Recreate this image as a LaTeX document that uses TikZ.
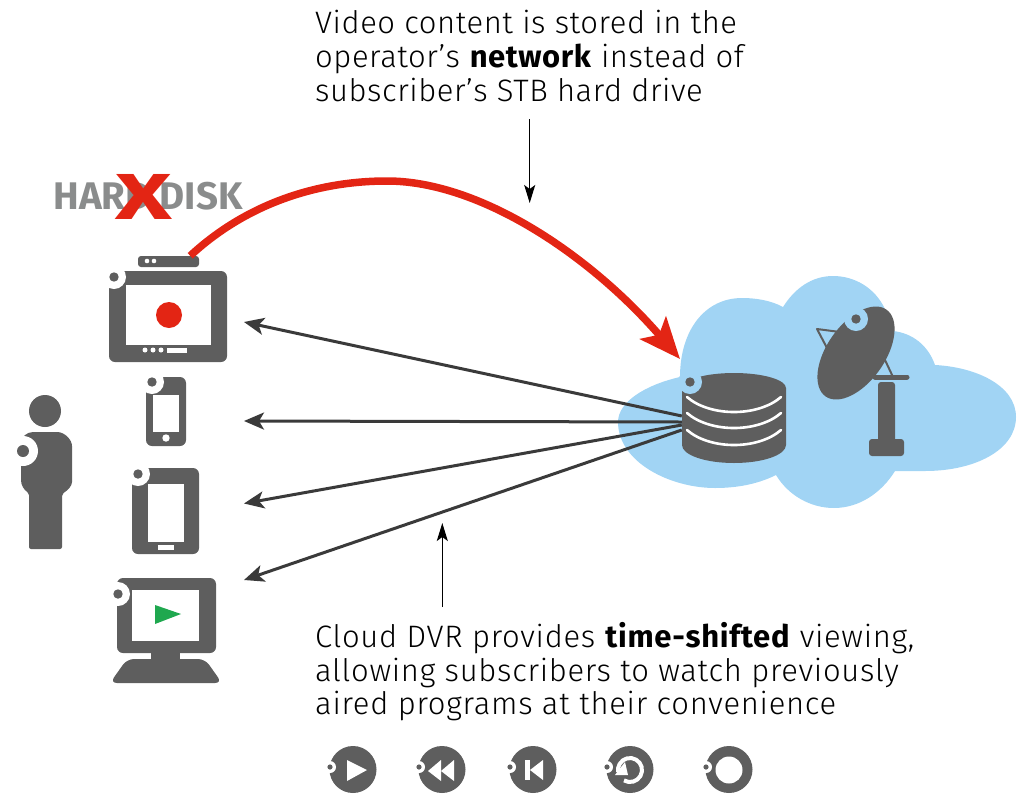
\documentclass[tikz,border=0pt]{standalone}
\usepackage{fontspec}
\setmainfont{Fira Sans}
\newfontfamily\capfont[LetterSpace=1.8,BoldFont={Fira Sans Bold}]{Fira Sans Light}
\newfontfamily\lowcapfont[LetterSpace=2.3,BoldFont={Fira Sans Bold}]{Fira Sans Light}
\usetikzlibrary{arrows.meta}
\definecolor{icongray}{HTML}{5E5E5E}
\definecolor{linegray}{HTML}{3A3A3A}
\definecolor{cloudblue}{HTML}{A1D4F4}
\definecolor{recred}{HTML}{E32514}
\definecolor{playgreen}{HTML}{1FA84F}
\definecolor{labelgray}{HTML}{8A8C8C}
\tikzset{
	device/.style={fill=icongray, rounded corners=6pt, inner sep=0pt},
	screen/.style={fill=white, inner sep=0pt},
	caption/.style={anchor=north west, inner sep=0pt, align=left},
	devarrow/.style={draw=linegray, line width=3pt, -{Stealth[length=20pt,width=17pt,inset=5pt]}},
	notearrow/.style={draw=black, line width=1.5pt, -{Stealth[length=18pt,width=11pt,inset=4pt]}},
	recarrow/.style={draw=recred, line width=7.5pt, -{Stealth[length=41pt,width=34pt,inset=9pt]}}
}
\begin{document}
\begin{tikzpicture}[x=1pt,y=-1pt]
\useasboundingbox (0,0) rectangle (1023,793);

% cloud
\fill[cloudblue] (680,377) .. controls (645,385) and (618,402) .. (618,422)
	.. controls (618,462) and (670,488) .. (715,488)
	.. controls (740,488) and (760,483) .. (776,475)
	.. controls (788,495) and (810,508) .. (834,508)
	.. controls (860,508) and (882,492) .. (895,471)
	-- (925,471) .. controls (975,471) and (1016,450) .. (1016,417)
	.. controls (1016,385) and (975,367) .. (935,365)
	.. controls (928,345) and (912,333) .. (893,331)
	-- (885,309) .. controls (875,288) and (855,276) .. (833,276)
	.. controls (812,276) and (795,288) .. (783,307)
	.. controls (770,300) and (755,298) .. (742,298)
	.. controls (705,298) and (680,330) .. (680,377) -- cycle;

% set top box and tv
\node[device, rounded corners=3pt, minimum width=61pt, minimum height=11pt] (stb) at (168.5,261.5) {};
\node[device, minimum width=118pt, minimum height=91pt] (tv) at (168,316.5) {};
\node[screen, minimum width=85pt, minimum height=60pt] (tvscreen) at (168.5,315) {};
\node[circle, fill=recred, inner sep=0pt, minimum size=26pt] (recdot) at (169,315) {};
\node[screen, minimum width=20pt, minimum height=5pt] (tvslot) at (177,350.5) {};
\foreach \px in {145,153,161}
	\fill[white] (\px,350) circle (2.5);
\foreach \px in {147,154}
	\fill[white] (\px,261) circle (2.3);

% phone, tablet, monitor
\node[device, minimum width=40pt, minimum height=69pt] (phone) at (166,411.5) {};
\node[screen, minimum width=26pt, minimum height=37pt] (phonescreen) at (166,413.5) {};
\fill[white] (166,438) circle (3.7);
\node[device, minimum width=67pt, minimum height=86pt] (tablet) at (165.5,511) {};
\node[screen, minimum width=36pt, minimum height=58pt] (tabletscreen) at (166,513) {};
\node[screen, minimum width=16pt, minimum height=5pt] (tabletslot) at (166,547.5) {};
\node[device, minimum width=99pt, minimum height=75pt] (monitor) at (166.5,615.5) {};
\node[screen, minimum width=67pt, minimum height=51pt] (monitorscreen) at (165.5,615.5) {};
\fill[playgreen] (155,605) -- (181,614) -- (155,624) -- cycle;
\fill[icongray] (151,650) rectangle (180,662);
\fill[icongray, rounded corners=7pt] (127,659) -- (205,659) -- (222,683) -- (110,683) -- cycle;

% person
\fill[icongray] (45,411) circle (16);
\fill[icongray, rounded corners=2pt] (29,549) -- (29,493)
	.. controls (24,490) and (21,485) .. (21,478) -- (21,445)
	.. controls (21,437) and (27,432) .. (35,432) -- (55,432)
	.. controls (65,432) and (72,440) .. (72,448) -- (72,480)
	.. controls (72,486) and (68,490) .. (62,494) -- (62,549) -- cycle;

% database
\fill[icongray] (682,388) .. controls (682,379.7) and (705.3,373) .. (734,373)
	.. controls (762.7,373) and (786,379.7) .. (786,388) -- (786,445)
	.. controls (786,455) and (762.7,463) .. (734,463)
	.. controls (705.3,463) and (682,455) .. (682,445) -- cycle;
\node[inner sep=0pt, minimum width=104pt, minimum height=90pt] (db) at (734,418) {};
\foreach \py in {397,413,430}
	\draw[white, line width=2.6pt, line cap=round] (687,\py) .. controls (710,{\py+20}) and (758,{\py+20}) .. (781,\py);

% dish
\draw[icongray, line width=2pt, line join=round] (840,332) -- (817,329) -- (827,348);
\draw[icongray, line width=2pt] (885,360) -- (893,377);
\draw[icongray, line width=5pt, line cap=round] (875,377) -- (907,377);
\fill[icongray, rotate around={55:(856,353)}] (856,353) ellipse [x radius=53, y radius=29];
\node[device, minimum width=17pt, minimum height=60pt, rounded corners=3pt] (mast) at (886.5,412) {};
\node[device, minimum width=35pt, minimum height=17pt, rounded corners=3pt] (mastbase) at (886.5,447.5) {};

% notches on the icons
\foreach \px/\py/\pr/\pd/\pc in {114/277/12/4.7/white,152/382/12/4.7/white,23/451/15/6/white,138/474/12/4.7/white,118/594/12/4.7/white,690/382/12/4.7/cloudblue,856/319/12/4.7/cloudblue}{
	\fill[\pc] (\px,\py) circle (\pr);
	\fill[icongray] (\px,\py) circle (\pd);
}

% hard disk
\node[inner sep=0pt, text=labelgray, font=\fontsize{38.5}{38.5}\selectfont\bfseries] (hdlabel) at (148,196) {HARD DISK};
\node[inner sep=0pt, text=recred, xscale=1.5, transform shape, font=\fontsize{65}{65}\selectfont\bfseries] (hdcross) at (143.5,197) {X};

% arrows
\coordinate (rectip) at (680,359);
\coordinate (recapex) at (387,181);
\coordinate (tiptv) at (244,322);
\coordinate (tipphone) at (244,421);
\coordinate (tiptablet) at (244,503.5);
\coordinate (tipmonitor) at (244,580);
\draw[recarrow] ([xshift=-9pt]stb.north east) .. controls (245,205) and (315,181) .. (recapex) .. controls (480,181) and (590,255) .. (rectip);
\draw[devarrow] ([yshift=2pt]db.west) -- (tiptv);
\draw[devarrow] ([yshift=-4pt]db.west) -- (tipphone);
\draw[devarrow] ([yshift=-7pt]db.west) -- (tiptablet);
\draw[devarrow] ([yshift=-12pt]db.west) -- (tipmonitor);

% captions
\node[caption, font=\capfont\fontsize{31}{34}\selectfont] (storetext) at (315,10) {Video content is stored in the\\operator’s \textbf{network} instead of\\subscriber’s STB hard drive};
\node[caption, font=\lowcapfont\fontsize{31}{33.7}\selectfont] (shifttext) at (315,622) {Cloud DVR provides \textbf{time-shifted} viewing,\\allowing subscribers to watch previously\\aired programs at their convenience};
\coordinate (storefrom) at (529.7,119);
\coordinate (storeto) at (529.7,203);
\coordinate (shiftfrom) at (442.3,607);
\coordinate (shiftto) at (442.3,523);
\draw[notearrow] (storefrom) -- (storeto);
\draw[notearrow] (shiftfrom) -- (shiftto);

% player buttons
\foreach \px in {353,442,533,630,729}
	\fill[icongray] (\px,769.5) circle (23.5);
\foreach \px in {330,419,510,607,706}{
	\fill[white] (\px,767) circle (6);
	\fill[icongray] (\px,767) circle (2.6);
}
\fill[white] (347,760) -- (367,770) -- (347,781) -- cycle;
\fill[white] (428,771) -- (441,760) -- (441,781) -- cycle;
\fill[white] (441,771) -- (454,760) -- (454,781) -- cycle;
\fill[white] (525,760) rectangle (530,780);
\fill[white] (530,770) -- (543,760) -- (543,780) -- cycle;
\draw[white, line width=4pt] (630,770) ++(120:12) arc[start angle=120, end angle=-190, radius=12];
\fill[white] (625,762) -- (615,775) -- (628,775) -- cycle;
\fill[white] (729,770) circle (13.5);
\end{tikzpicture}
\end{document}
